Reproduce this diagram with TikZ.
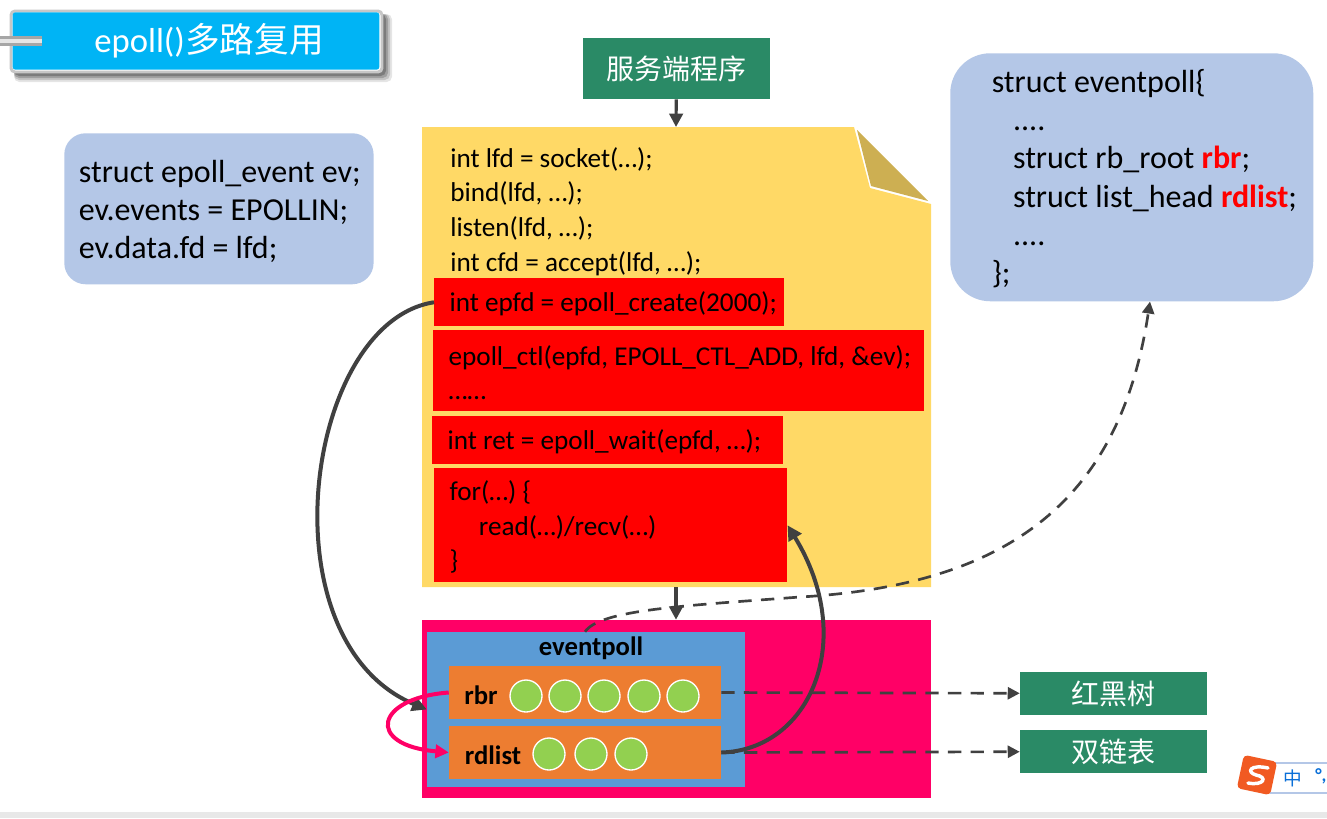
\documentclass[tikz,border=0pt]{standalone}
\usepackage{fontspec}
\setmainfont{Carlito}
\newfontfamily\cjk{Noto Sans CJK SC}
\usetikzlibrary{arrows.meta,shadows}
\definecolor{paperyellow}{HTML}{FFD966}
\definecolor{foldbrown}{HTML}{CDAF52}
\definecolor{softblue}{HTML}{B4C7E7}
\definecolor{tealgreen}{HTML}{2A8A66}
\definecolor{hotpink}{HTML}{FF0066}
\definecolor{midblue}{HTML}{5B9BD5}
\definecolor{slotorange}{HTML}{ED7D31}
\definecolor{itemgreen}{HTML}{92D050}
\definecolor{titleblue}{HTML}{00B4F5}
\definecolor{linegray}{HTML}{404040}
\definecolor{imeorange}{HTML}{F15A22}
\definecolor{imeblue}{HTML}{0A6FD8}
\begin{document}
\begin{tikzpicture}[x=0.75pt,y=-0.75pt,
            codefont/.style = {font=\fontsize{20.4}{26}\selectfont},
            bigfont/.style = {font=\fontsize{24}{28.7}\selectfont},
            redbox/.style = {fill=red, codefont, align=flush left, inner xsep=11.5pt, inner ysep=0pt, anchor=north west, execute at begin node={\leavevmode\rule{0pt}{17.5pt}}},
            greenbox/.style = {fill=tealgreen, text=white, font=\cjk\fontsize{21}{26}\selectfont, minimum width=140.25pt, inner sep=0pt},
            softbox/.style = {fill=softblue, align=flush left, anchor=north west, bigfont, inner sep=0pt},
            slot/.style = {fill=slotorange, minimum width=204pt, minimum height=39.75pt, inner sep=0pt},
            item/.style = {circle, fill=itemgreen, draw=white, line width=1pt, minimum size=24pt, inner sep=0pt},
            slotname/.style = {font=\fontsize{20}{24}\selectfont\bfseries},
            solidline/.style = {draw=linegray, line width=3pt, -{Triangle[length=11pt,width=11pt]}},
            dashline/.style = {draw=linegray, line width=2pt, dash pattern=on 10pt off 7pt, -{Triangle[length=9pt,width=9pt]}},
            shortline/.style = {draw=linegray, line width=2.4pt, -{Triangle[length=10pt,width=10pt]}}
            ]
    \useasboundingbox (0,0) rectangle (1327,818);
    \fill[white] (0,0) rectangle (1327,818);
    \fill[black!9] (0,812) rectangle (1327,818);

    \foreach \d/\o in {10/0.10,8/0.14,6/0.18,4/0.22}
        \fill[black, opacity=\o, rounded corners=4pt] (14,14) rectangle (382+\d,72+\d);
    \fill[white, rounded corners=3pt, draw=black!22, line width=2.2pt] (11,11) rectangle (382,72);
    \node[fill=titleblue, rounded corners=2pt, minimum width=275pt, minimum height=43pt, text=white, inner sep=0pt,
          font=\fontsize{26}{30}\selectfont] (title) at (196,41) {\hspace{19.5pt}\raisebox{-1pt}{epoll(){\cjk 多路复用}}};
    \fill[black!35] (0,36) rectangle (42,46);
    \fill[black!10] (0,39) rectangle (42,43);

    \node[softbox, rounded corners=16pt, minimum width=231.75pt, minimum height=113.25pt, text width=210pt, inner xsep=11pt, execute at begin node={\leavevmode\rule{0pt}{21pt}}] (evbox) at (64,133)
        {\mbox{struct epoll\_event ev;}\\\mbox{ev.events = EPOLLIN;}\\\mbox{ev.data.fd = lfd;}};

    \node[softbox, rounded corners=30pt, minimum width=272.25pt, minimum height=186pt, text width=210pt, inner xsep=30.5pt, execute at begin node={\leavevmode\rule{0pt}{19.5pt}}] (structbox) at (950,53)
        {\mbox{struct eventpoll\{}\\
         \hspace*{16pt}....\\
         \hspace*{16pt}\mbox{struct rb\_root {\color{red}\bfseries rbr};}\\
         \hspace*{16pt}\mbox{struct list\_head {\color{red}\bfseries rdlist};}\\
         \hspace*{16pt}....\\
         \};};

    \node[greenbox, minimum height=45.75pt] (server) at (676.5,68.5) {服务端程序};

    \fill[paperyellow] (422,127) -- (854,127) -- (870,188) -- (931,204) -- (931,587) -- (422,587) -- cycle;
    \fill[foldbrown] (857,130) -- (871,186) -- (928,201) -- cycle;
    \coordinate (papertop) at (676,127);
    \coordinate (paperbottom) at (676,587);

    \node[codefont, align=left, anchor=north west, inner sep=0pt] (socketcode) at (450,147)
        {int lfd = socket(…);\\bind(lfd, …);\\listen(lfd, …);\\int cfd = accept(lfd, …);};

    \node[redbox, text width=239.25pt, minimum height=36pt] (createbox) at (434,278) {\mbox{int epfd = epoll\_create(2000);}};
    \node[redbox, text width=345.25pt, minimum height=60.75pt] (ctlbox) at (433,330) {\mbox{epoll\_ctl(epfd, EPOLL\_CTL\_ADD, lfd, \&ev);}\\……};
    \node[redbox, text width=240.25pt, minimum height=36pt] (waitbox) at (432,416) {\mbox{int ret = epoll\_wait(epfd, …);}};
    \node[redbox, text width=241.75pt, minimum height=85.5pt] (loopbox) at (434,468) {\mbox{for(…) \{}\\\hspace*{22pt}read(…)/recv(…)\\\}};

    \node[fill=hotpink, minimum width=381.75pt, minimum height=133.5pt, inner sep=0pt] (pinkbox) at (676.5,709) {};
    \node[fill=midblue, minimum width=238.5pt, minimum height=116.25pt, inner sep=0pt] (pollbox) at (586,709.5) {};
    \node[slotname] (pollname) at (591,648) {eventpoll};
    \node[slot] (rbrbox) at (585,692.5) {};
    \node[slot] (rdlistbox) at (585,752.5) {};
    \node[slotname] (rbrname) at (481,695) {rbr};
    \node[slotname] (rdlistname) at (493,755) {rdlist};
    \foreach \px [count=\i] in {526,565,604,644,683}
        \node[item] (rbritem\i) at (\px,696) {};
    \foreach \px [count=\i] in {549,591,631}
        \node[item] (rdlistitem\i) at (\px,754) {};

    \node[greenbox, minimum height=32.25pt] (rbtree) at (1113.5,693.5) {红黑树};
    \node[greenbox, minimum height=32.25pt] (linklist) at (1113.5,751.5) {双链表};

    \draw[softblue, line width=0.8pt] (1270,763) -- (1327,763) (1270,793) -- (1327,793);
    \fill[imeorange, rotate around={-12:(1257,775)}, rounded corners=3pt] (1240,758) rectangle (1274,792);
    \draw[white, line width=2.6pt, line cap=round] (1268,768) .. controls (1250,764) and (1246,772) .. (1256,775) .. controls (1268,777) and (1264,786) .. (1248,783);
    \node[text=imeblue, font=\cjk\fontsize{14}{16}\selectfont, inner sep=0pt] (imechar) at (1293,778) {中};
    \node[text=imeblue, font=\bfseries\fontsize{14}{16}\selectfont, inner sep=0pt, anchor=west] (imedot) at (1315,776) {°,};

    \draw[shortline] (server) -- (papertop);
    \draw[shortline] (paperbottom) -- (pinkbox.north -| paperbottom);
    \draw[solidline] (createbox.west) .. controls (305,322) and (262,640) .. (pollbox.west);
    \draw[solidline] (rdlistbox.east) .. controls (810,750) and (858,640) .. (loopbox.east);
    \draw[draw=hotpink, line width=3pt, -{Triangle[length=10pt,width=10pt]}] (rbrbox.west) .. controls (375,698) and (365,745) .. (rdlistbox.west);
    \draw[dashline] (rbrbox.east) -- (rbtree);
    \draw[dashline] (rdlistbox.east) -- (linklist);
    \draw[dashline] (pollbox.north -| 585,0) .. controls (600,610) and (680,606) .. (800,597) .. controls (1010,585) and (1120,500) .. (structbox.south -| 1150,0);
\end{tikzpicture}
\end{document}
